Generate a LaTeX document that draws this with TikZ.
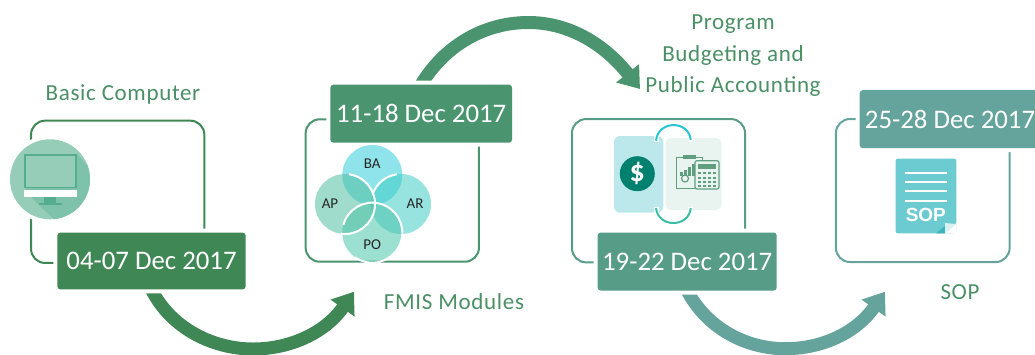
\documentclass[tikz,border=0pt]{standalone}
\usepackage{fontspec}
\setmainfont{Carlito}
\newfontfamily\labelfont[LetterSpace=2.9]{Carlito}
\newfontfamily\arialfont{Liberation Sans}
\usetikzlibrary{arrows.meta,backgrounds}
\definecolor{cA}{HTML}{3F8856}
\definecolor{cB}{HTML}{4A9570}
\definecolor{cC}{HTML}{569C86}
\definecolor{cD}{HTML}{65A39D}
\definecolor{cLabel}{HTML}{4A8F65}
\definecolor{vBA}{HTML}{33CCD9}
\definecolor{vAP}{HTML}{50BFA0}
\definecolor{vAR}{HTML}{40CCC5}
\definecolor{vPO}{HTML}{4BC6AD}
\definecolor{mono}{HTML}{95CDB8}
\definecolor{monoD}{HTML}{55AD90}
\definecolor{monoS}{HTML}{7FC2AB}
\definecolor{calc}{HTML}{5F9F80}
\tikzset{
  datebox/.style={rectangle,rounded corners=3pt,fill=#1,text=white,inner sep=0pt,
    minimum height=58pt,font=\fontsize{26.8}{28}\selectfont,
    preaction={draw=white,line width=8pt}},
  framebox/.style={rectangle,draw=#1,line width=2pt,rounded corners=14pt,inner sep=0pt,fill=none},
  toplabel/.style={text=cLabel,inner sep=0pt,font=\labelfont\fontsize{23}{24}\selectfont},
  vennlabel/.style={text=black!85,inner sep=0pt,font=\fontsize{15}{16}\selectfont},
  venn/.style={circle,minimum size=60pt,inner sep=0pt,fill=#1,fill opacity=.55},
  halo/.style={draw=white,line width=2pt},
  bigarrow/.style={draw=#1,line width=13pt,-{Triangle[length=20pt,width=28pt]}},
  iconline/.style={draw=calc,line width=1.2pt},
}
\begin{document}
\begin{tikzpicture}[x=1pt,y=1pt,yscale=-1]
\useasboundingbox (0,0) rectangle (1035,354);

% date boxes
\node[datebox=cA,minimum width=188.4pt,minimum height=56.6pt] (d1) at (151.5,261) {04-07 Dec 2017};
\node[datebox=cB,minimum width=181.7pt] (d2) at (421.2,113.7) {11-18 Dec 2017};
\node[datebox=cC,minimum width=179pt] (d3) at (687.2,261.5) {19-22 Dec 2017};
\node[datebox=cD,minimum width=180.6pt] (d4) at (950,119.2) {25-28 Dec 2017};

\coordinate (t1) at (354,291.7);
\coordinate (t2) at (640,89);
\coordinate (t3) at (885,291.7);

\begin{scope}[on background layer]
  \node[framebox=cA,minimum width=173.3pt,minimum height=142.3pt] (f1) at (117.7,191.8) {};
  \node[framebox=cB,minimum width=173.3pt,minimum height=142.4pt] (f2) at (392.3,190.5) {};
  \node[framebox=cC,minimum width=173pt,minimum height=143.3pt] (f3) at (658.5,190.7) {};
  \node[framebox=cD,minimum width=173.7pt,minimum height=143pt] (f4) at (922.8,190.5) {};
  \draw[bigarrow=cA] (d1.south) .. controls (172,330) and (215,349) .. (253,349)
     .. controls (290,349) and (325,333) .. (t1);
  \draw[bigarrow=cB] (d2.north) .. controls (445,45) and (485,22.5) .. (528.3,22.5)
     .. controls (570,22.5) and (605,45) .. (t2);
  \draw[bigarrow=cD] (d3.south) .. controls (708,330) and (748,348.7) .. (785,348.7)
     .. controls (822,348.7) and (856,333) .. (t3);
\end{scope}

% labels
\node[toplabel] (lb1) at (123,94.5) {Basic Computer};
\node[toplabel] (lb2) at (454,302) {FMIS Modules};
\node[toplabel] (lb3) at (960,292) {SOP};
\node[toplabel] (lb4) at (733,24.5) {Program};
\node[toplabel] (lb5) at (733,55) {Budgeting and};
\node[toplabel] (lb6) at (733,86.5) {Public Accounting};

% monitor icon
\fill[white] (50,179.3) circle[radius=44pt];
\fill[mono] (50,179.3) circle[radius=40pt];
\begin{scope}
  \clip (50,179.3) circle[radius=40pt];
  \fill[monoS] (76.7,154) -- (100,178) -- (100,230) -- (66,230) -- (39,205.3) -- (24.3,190) -- cycle;
\end{scope}
\draw[monoD,line width=1.6pt,fill=mono] (25.2,154.8) rectangle (75.8,187.6);
\fill[white] (24,190) rectangle (77,196.7);
\fill[monoD] (44,196.7) rectangle (56,203.3);
\fill[monoD] (39,203.3) rectangle (61.7,205.3);

% venn
\node[venn=vBA] (ba) at (372.3,175) {};
\node[venn=vAR] (ar) at (401,204) {};
\node[venn=vPO] (po) at (372.3,232.7) {};
\node[venn=vAP] (ap) at (345,204) {};
\draw[halo] (ar.center) ++(-98:30pt) arc[start angle=-98,end angle=-160,radius=30pt];
\draw[halo] (po.center) ++(-165:30pt) arc[start angle=-165,end angle=125,radius=30pt];
\draw[halo] (ap.center) ++(-82:30pt) arc[start angle=-82,end angle=98,radius=30pt];
\node[vennlabel] (lba) at (372.3,163.3) {BA};
\node[vennlabel] (lap) at (330,204) {AP};
\node[vennlabel] (lar) at (415,204) {AR};
\node[vennlabel] (lpo) at (372.3,245) {PO};

% accounting icon
\fill[fill={rgb,255:red,188;green,232;blue,236},rounded corners=6pt] (614,136) rectangle (663.3,212.7);
\fill[fill={rgb,255:red,233;green,243;blue,240},rounded corners=6pt] (665.3,138) rectangle (721.7,210);
\fill[white] (654,134) rectangle (658.5,142);
\fill[white] (688,136) rectangle (693,142);
\fill[white] (654,207) rectangle (658.5,214);
\fill[white] (688,207) rectangle (693,212);
\draw[line width=2pt,draw={rgb,255:red,38;green,198;blue,214}] (656,140.7) .. controls (658,120) and (689,120) .. (690.7,140);
\draw[line width=2pt,draw={rgb,255:red,60;green,191;blue,165}] (656,208) .. controls (658,228) and (689,228) .. (690.7,208);
\node[circle,fill={rgb,255:red,0;green,128;blue,111},minimum width=35pt,minimum height=31pt,inner sep=0pt,text=white,font=\bfseries\fontsize{30}{30}\selectfont] (dollar) at (637.3,173.7) {\$};
\draw[iconline] (676.7,157.5) rectangle (702.7,188.3);
\fill[calc] (683,155) rectangle (696,159);
\fill[calc] (680,172) rectangle (683,176);
\fill[calc] (684,170) rectangle (687,176);
\fill[calc] (688,167) rectangle (691,176);
\fill[calc] (692,164) rectangle (695,176);
\draw[calc,line width=1.2pt] (685,178.5) circle[radius=3.5pt];
\draw[iconline,fill={rgb,255:red,233;green,243;blue,240},rounded corners=2pt] (695,160.7) rectangle (719,189);
\fill[calc] (698,163.5) rectangle (716,169);
\foreach \yy in {172,176.5,181,185}{
  \foreach \xx in {698,703,708,713}{
    \fill[calc] (\xx,\yy) rectangle ++(3.2,2.4);
  }
}

% SOP icon
\fill[fill={rgb,255:red,108;green,203;blue,208},rounded corners=2pt] (895.7,158.7) rectangle (956.3,233.3);
\foreach \yy in {172.7,182,191.3,200.7}{
  \draw[white,line width=2pt] (905,\yy) -- (946.7,\yy);
}
\node[text=white,inner sep=0pt,font=\arialfont\bfseries\fontsize{19}{20}\selectfont] (sop) at (925.8,215) {SOP};
\fill[white] (945,233.5) -- (956.5,233.5) -- (956.5,223) -- cycle;
\fill[fill={rgb,255:red,60;green,180;blue,190}] (936,233.3) -- (945,233.3) -- (945,226) -- cycle;
\fill[fill={rgb,255:red,215;green,240;blue,240}] (945,233.3) -- (956.3,224) -- (945,223) -- cycle;
\end{tikzpicture}
\end{document}
